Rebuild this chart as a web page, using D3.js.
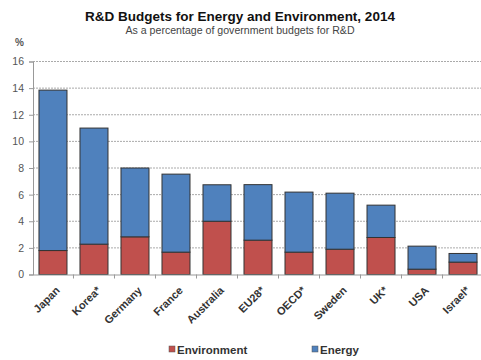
<!DOCTYPE html>
<html><head><meta charset="utf-8">
<script src="https://cdn.jsdelivr.net/npm/d3@7"></script>
<style>body{margin:0;background:#fff}svg{display:block}</style>
</head><body><svg id="c" width="481" height="360"></svg>
<script>
const categories = ["Japan","Korea*","Germany","France","Australia","EU28*","OECD*","Sweden","UK*","USA","Israel*"];
const environment = [1.8,2.28,2.83,1.68,4.0,2.58,1.68,1.9,2.78,0.4,0.93];
const energy = [12.05,8.72,5.17,5.86,2.74,4.17,4.51,4.21,2.43,1.73,0.65];
const yTicks = [0,2,4,6,8,10,12,14,16];
const seriesNames = ["Environment","Energy"];
const colors = ["#c0504d","#4f81bd"];

const svg = d3.select("#c");
const font = "Liberation Sans, Arial, sans-serif";
const x = d3.scaleBand().domain(categories).range([32.5,483.5]).paddingInner(0.317).paddingOuter(0.158);
const y = d3.scaleLinear().domain([0,16]).range([274.5,61.5]);

// title
svg.append("text").attr("x",240).attr("y",21).attr("text-anchor","middle")
  .style("font-family",font).style("font-weight","bold").style("font-size","13.5px").attr("fill","#111")
  .text("R&D Budgets for Energy and Environment, 2014");
svg.append("text").attr("x",240).attr("y",34).attr("text-anchor","middle")
  .style("font-family",font).style("font-size","10.6px").attr("fill","#444")
  .text("As a percentage of government budgets for R&D");
svg.append("text").attr("x",15).attr("y",46)
  .style("font-family",font).style("font-size","10px").style("font-weight","bold").attr("fill","#555").text("%");

// grid
svg.append("g").selectAll("line").data(yTicks.filter(d=>d>0)).join("line")
  .attr("x1",33).attr("x2",481).attr("y1",d=>y(d)).attr("y2",d=>y(d))
  .attr("stroke","#aaa").attr("stroke-width",1).attr("stroke-dasharray","2,1");

// y axis
const ya = svg.append("g").attr("transform","translate(33,0)")
  .call(d3.axisLeft(y).tickValues(yTicks).tickSize(4).tickPadding(5));
ya.select(".domain").attr("stroke","#999");
ya.selectAll(".tick line").attr("stroke","#999");
ya.selectAll("text").style("font-family",font).style("font-size","10.5px").attr("fill","#555");

// bars
const stack = d3.stack().keys([0,1]).value((d,k)=> k===0 ? environment[d] : energy[d]);
const layers = stack(categories.map((c,i)=>i));
svg.append("g").selectAll("g").data(layers).join("g").attr("fill",(d,i)=>colors[i])
  .selectAll("rect").data(d=>d).join("rect")
  .attr("x",d=>x(categories[d.data])).attr("width",x.bandwidth())
  .attr("y",d=>y(d[1])).attr("height",d=>y(d[0])-y(d[1]))
  .attr("stroke","#333").attr("stroke-width",1);

// x axis
const xa = svg.append("g").attr("transform","translate(0,274.5)")
  .call(d3.axisBottom(x).tickSize(0).tickSizeOuter(0));
xa.select(".domain").attr("stroke","#999");
xa.selectAll(".tick").each(function(){
  const t=d3.select(this);
  t.append("line").attr("x1",x.step()/2).attr("x2",x.step()/2).attr("y1",0).attr("y2",4).attr("stroke","#999");
});
xa.selectAll("text").attr("transform","translate(0,9) rotate(-45)").attr("text-anchor","end").attr("dy","0.7em").attr("dx","0")
  .style("font-family",font).style("font-size","11px").style("font-weight","bold").attr("fill","#333");

// legend
const lx=[169,312];
const lg = svg.append("g");
seriesNames.forEach((n,i)=>{
  lg.append("rect").attr("x",lx[i]).attr("y",346).attr("width",6).attr("height",6).attr("fill",colors[i]).attr("stroke","#555").attr("stroke-width",0.5);
  lg.append("text").attr("x",lx[i]+8).attr("y",354).style("font-family",font).style("font-size","11.5px").style("font-weight","bold").attr("fill","#333").text(n);
});
</script></body></html>
